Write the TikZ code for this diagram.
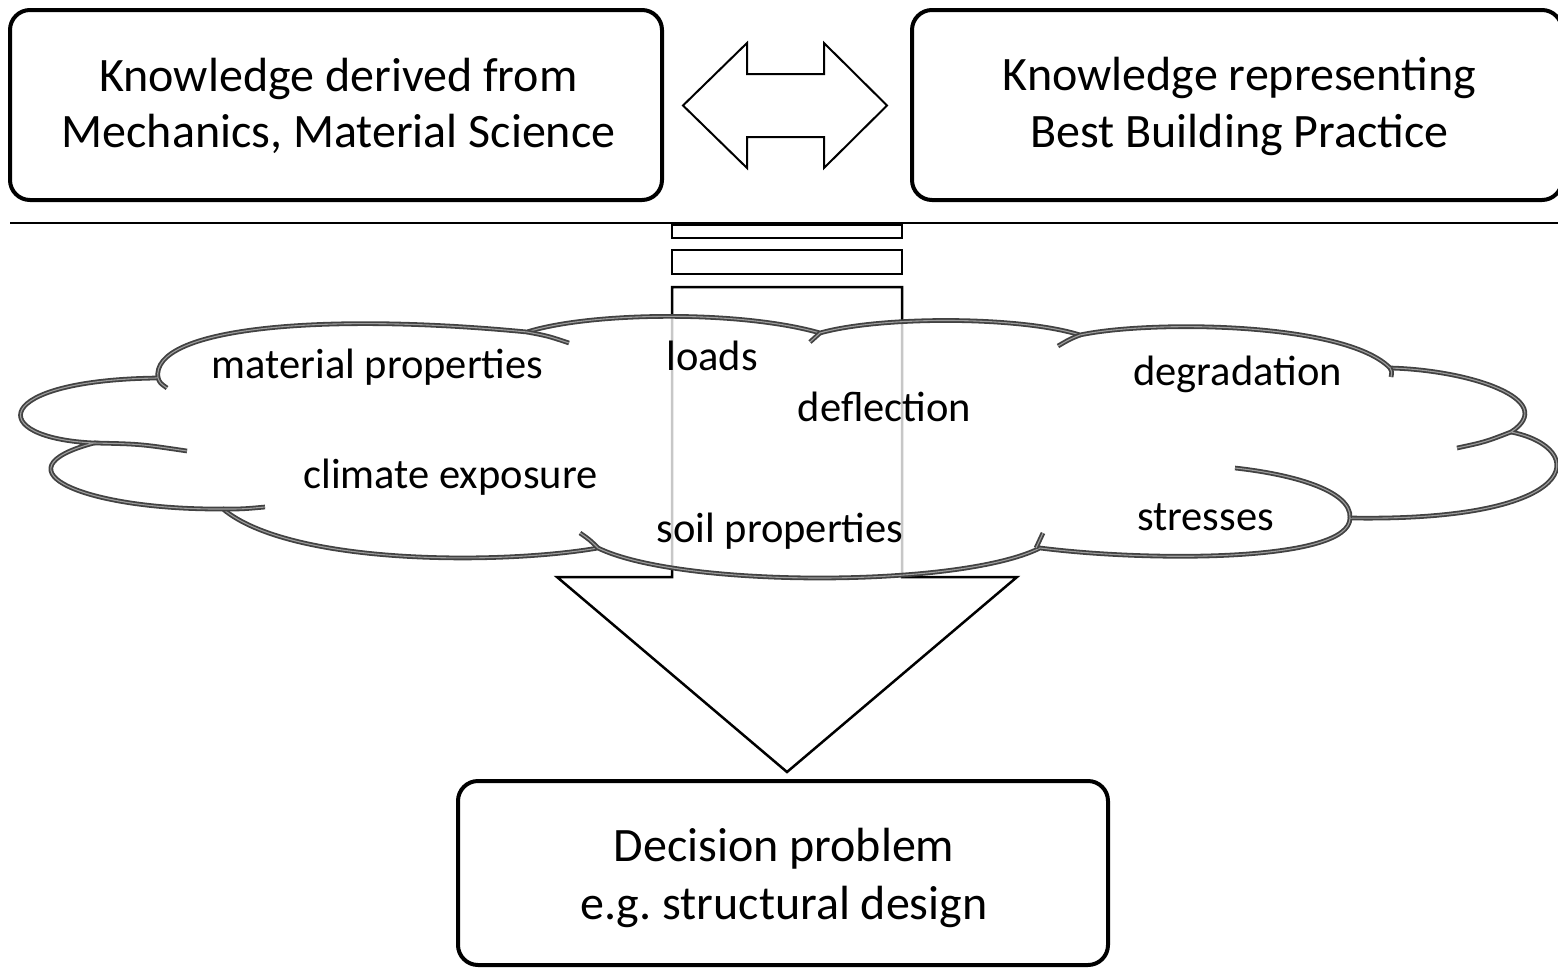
\documentclass[tikz,border=0pt]{standalone}
\usepackage{fontspec}
\setmainfont{Carlito}
\frenchspacing
\begin{document}
\begin{tikzpicture}[x=1pt,y=-1pt,
  box/.style={draw, line width=4pt, rounded corners=20pt, fill=white, inner sep=0pt},
  title/.style={font=\fontsize{48}{57}\selectfont, anchor=base, inner sep=0pt},
  shapeline/.style={draw, line width=2.5pt, line join=miter, fill=white},
  cloudline/.style={draw=black!74, line width=1.8pt, double=black!38, double distance=1.1pt},
  lbl/.style={font=\fontsize{42.5}{50}\selectfont, anchor=base, inner sep=0pt}
]
\useasboundingbox (0,0) rectangle (1558,969);

% knowledge sources and the decision problem
\node[box, minimum width=652pt, minimum height=190pt] (mech) at (336,105) {};
\node[box, minimum width=650pt, minimum height=190pt] (prac) at (1237,105) {};
\node[box, minimum width=650pt, minimum height=184pt] (dec) at (783,873) {};
\node[title] (mech1) at (338.5,91) {Knowledge derived from};
\node[title] (mech2) at (338.5,147) {Mechanics, Material Science};
\node[title] (prac1) at (1239.5,90) {Knowledge representing};
\node[title] (prac2) at (1239.5,147) {Best Building Practice};
\node[title] (dec1) at (784,861) {Decision problem};
\node[title] (dec2) at (784,919) {e.g. structural design};

% two-way exchange between the knowledge sources
\draw[shapeline, line width=2pt] (683,105.5) -- (747,43) -- (747,74) -- (824,74)
  -- (824,43) -- (887,105.5) -- (824,168) -- (824,137) -- (747,137) -- (747,168) -- cycle;

% separator
\draw[line width=2pt] (10,223) -- (1558,223);

% striped block arrow leading down to the decision problem
\draw[shapeline] (672,225) rectangle (902,238);
\draw[shapeline] (672,250) rectangle (902,274);
\draw[shapeline] (672,287) -- (902,287) -- (902,577) -- (1017,577) -- (787,772)
  -- (557,577) -- (672,577) -- cycle;

% cloud of influencing factors
\def\cloudoutline{(158,378) .. controls (150,328) and (320,312) .. (527,332)
  .. controls (590,312) and (740,310) .. (820,333)
  .. controls (880,316) and (1020,316) .. (1080,335)
  .. controls (1150,320) and (1345,322) .. (1390,368)
  .. controls (1470,370) and (1560,400) .. (1511,432)
  .. controls (1590,448) and (1585,522) .. (1350,518)
  .. controls (1350,562) and (1150,562) .. (1040,548)
  .. controls (960,588) and (680,588) .. (598,548)
  .. controls (500,565) and (290,565) .. (223,509)
  .. controls (85,510) and (-8,470) .. (94,443)
  .. controls (-15,438) and (-10,380) .. (158,378) -- cycle}
\fill[white, fill opacity=0.78] \cloudoutline;
\draw[cloudline] \cloudoutline;
\draw[cloudline] (167,388) .. controls (160,383) .. (158,378);
\draw[cloudline] (527,332) .. controls (548,336) .. (569,343);
\draw[cloudline] (820,333) .. controls (815,337) .. (810,342);
\draw[cloudline] (1080,335) .. controls (1070,339) .. (1058,346);
\draw[cloudline] (1390,368) .. controls (1392,372) .. (1391,377);
\draw[cloudline] (1511,432) .. controls (1485,442) .. (1457,448);
\draw[cloudline] (1350,518) .. controls (1352,490) and (1290,474) .. (1235,468);
\draw[cloudline] (1036,548) .. controls (1040,541) .. (1043,533);
\draw[cloudline] (598,548) .. controls (590,540) .. (580,533);
\draw[cloudline] (223,509) .. controls (243,509) .. (265,507);
\draw[cloudline] (94,443) .. controls (140,444) .. (187,451);

\node[lbl] (matp) at (377.5,378) {material properties};
\node[lbl] (loads) at (712,370) {loads};
\node[lbl] (defl) at (884.5,421) {deflection};
\node[lbl] (degr) at (1237.5,385) {degradation};
\node[lbl] (clim) at (450.5,488) {climate exposure};
\node[lbl] (soil) at (780,542) {soil properties};
\node[lbl] (stress) at (1205.5,530) {stresses};
\end{tikzpicture}
\end{document}
